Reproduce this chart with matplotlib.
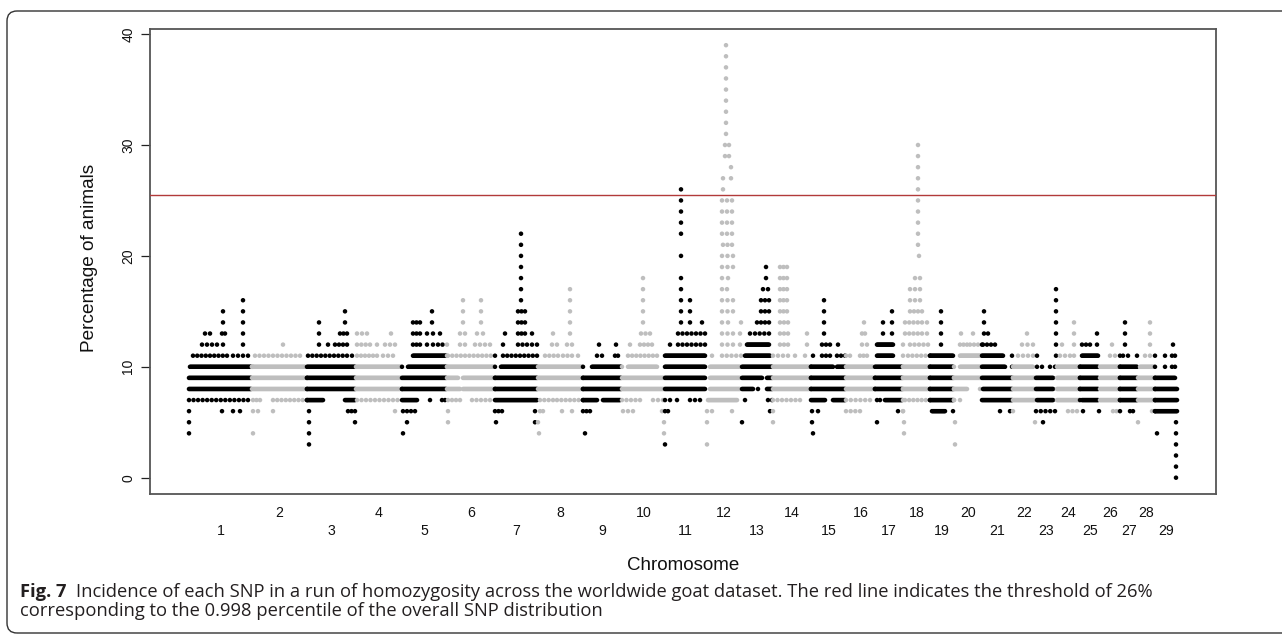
import numpy as np
import matplotlib
matplotlib.use("Agg")
import matplotlib.pyplot as plt
from matplotlib.patches import FancyBboxPatch

# ----------------------------------------------------------------------------
# DATA (x positions are SNP index in hundreds, y is % of animals in a ROH)
# ----------------------------------------------------------------------------
chrom_names = [str(i) for i in range(1, 30)]
chrom_sizes = [31.5, 27.5, 24.5, 23, 22.5, 24, 21.5, 22.5, 19.5, 21.5,
               20.5, 17.75, 15.5, 19.25, 17.5, 14.5, 14, 13.5, 12, 14,
               15.5, 11.25, 10.75, 11.5, 9.75, 10.25, 8.75, 8.75, 11.5]

threshold = 25.5

# runs of neighbouring SNPs sharing the same value: (level, first, last)
dense_runs = [
    (10, 0.5, 32), (9, 0, 31), (8, 0, 31),                                   # 1
    (10, 31.5, 58), (9, 31.5, 59), (8, 31.5, 59),                            # 2
    (10, 59, 83), (9, 59, 83), (8, 59, 83), (7, 59, 67), (7, 78, 83),        # 3
    (10, 83.5, 106.5), (9, 83.5, 106.5), (8, 83.5, 106.5),                   # 4
    (11, 112, 129), (10, 109.5, 129), (9, 107, 129), (8, 106.5, 129),
    (7, 107, 114),                                                           # 5
    (10, 129, 153), (9, 129.5, 134.5), (9, 137, 153), (8, 129.5, 135.5),
    (8, 137, 153),                                                           # 6
    (10, 156, 174), (9, 153, 174), (8, 153, 174), (7, 153, 174),             # 7
    (10, 174.5, 197), (9, 174.5, 197), (8, 174.5, 197),                      # 8
    (10, 201.5, 216.5), (9, 197, 216), (8, 197, 216), (7, 197, 204),
    (7, 207, 215.5),                                                         # 9
    (10, 219.5, 234), (9, 216.5, 237.5), (8, 216.5, 237.5),                  # 10
    (11, 238, 258), (10, 238, 258), (9, 238, 258), (8, 238, 258),            # 11
    (10, 260.5, 275.5), (9, 260.5, 275.5), (8, 260.5, 275.5),
    (7, 259.5, 274),                                                         # 12
    (12, 279, 290), (11, 278, 290.5), (10, 276.5, 291.5), (9, 276.5, 286.5),
    (9, 289, 291.5), (8, 276.5, 282), (8, 289, 291.5),                       # 13
    (10, 292, 311), (9, 292, 311), (8, 292, 311),                            # 14
    (10, 311, 322), (10, 324, 328), (9, 311, 328), (8, 311, 328),
    (7, 311, 318), (7, 322, 328),                                            # 15
    (10, 328.5, 342), (9, 328.5, 343), (8, 328.5, 343),                      # 16
    (12, 344, 352), (11, 344, 352), (10, 343, 357), (9, 343, 357),
    (8, 343, 357), (7, 348, 357),                                            # 17
    (10, 357, 370.5), (9, 357, 370.5), (8, 357, 370.5),                      # 18
    (11, 370.5, 382), (10, 370.5, 382.5), (9, 370.5, 382.5),
    (8, 370.5, 382.5), (7, 370.5, 382.5), (6, 371.5, 378),                   # 19
    (11, 385.5, 396.5), (10, 385.5, 396.5), (9, 382.5, 396.5),
    (8, 382.5, 389),                                                         # 20
    (11, 397, 407), (10, 397, 408), (9, 397, 412), (8, 397, 411.5),
    (7, 396.5, 411.5),                                                       # 21
    (10, 412, 422), (9, 412, 423), (8, 412, 423), (7, 412, 423),             # 22
    (9, 423.5, 432), (8, 423.5, 432), (7, 424, 432),                         # 23
    (10, 434, 445.5), (9, 434, 445.5), (8, 434, 445.5), (7, 434, 445.5),     # 24
    (11, 446.5, 454.5), (10, 445.5, 454.5), (9, 445.5, 454.5),
    (8, 445.5, 454.5), (7, 446.5, 454.5),                                    # 25
    (10, 455.5, 465.5), (9, 455.5, 465.5), (8, 455.5, 465.5),
    (7, 455.5, 465.5),                                                       # 26
    (10, 465.5, 474), (9, 465.5, 474), (8, 465.5, 474), (7, 465.5, 474),     # 27
    (10, 475.5, 483), (9, 474.5, 483), (8, 474.5, 483), (7, 474.5, 483),     # 28
    (9, 483, 493), (8, 483, 494), (7, 483, 494), (6, 483, 494),              # 29
]

# looser runs where single SNP dots are still visible
dotted_runs = [
    (13, 8, 10.5), (13, 16.5, 18), (12, 6.5, 14), (11, 2, 19), (11, 22, 29.5),
    (7, 0, 29.5), (6, 16.5, 16.5), (6, 22, 22), (6, 25.5, 25.5),             # 1
    (11, 33, 55.5), (7, 32, 35.5), (7, 42, 59), (6, 32, 34.5), (6, 42, 42),  # 2
    (13, 75.5, 79), (12, 69.5, 69.5), (12, 73, 79), (11, 59.5, 79),
    (11, 81.5, 81.5), (6, 79.5, 83),                                         # 3
    (13, 84, 89), (13, 101, 101), (12, 84, 90.5), (12, 94, 94), (12, 98, 103),
    (11, 84, 94), (11, 97, 102), (7, 84, 106.5), (6, 103, 103),              # 4
    (14, 112, 115.5), (13, 112, 115.5), (13, 119, 122), (12, 112, 115.5),
    (12, 119, 122), (12, 124.5, 129), (7, 120.5, 120.5), (7, 126.5, 128),
    (6, 107, 113),                                                           # 5
    (13, 135.5, 138), (13, 144, 147), (12, 135.5, 138), (12, 143, 150.5),
    (11, 129.5, 153), (7, 129.5, 135.5), (7, 141.5, 150.5),                  # 6
    (15, 164.5, 168), (14, 164.5, 168), (13, 164.5, 168), (12, 164.5, 169),
    (12, 171.5, 174), (11, 157, 174), (6, 153, 156.5),                       # 7
    (12, 181.5, 184), (12, 189, 191.5), (11, 178, 184.5), (11, 187, 191.5),
    (7, 175.5, 182), (7, 184, 197), (6, 175.5, 177),                         # 8
    (11, 204, 206.5), (11, 213, 214.5), (6, 197, 200.5),                     # 9
    (13, 226, 230.5), (12, 225.5, 231.5), (11, 219.5, 234), (7, 216.5, 225.5),
    (7, 232, 237), (6, 217, 222),                                            # 10
    (13, 244.5, 258), (12, 244.5, 258), (7, 238, 240.5), (7, 250.5, 255.5),
    (6, 238, 239.5),                                                         # 11
    (30, 268, 270), (29, 268, 270), (25, 266.5, 271.5), (24, 266.5, 271.5),
    (23, 266.5, 271.5), (22, 266.5, 271.5), (21, 267, 271.5),
    (20, 266.5, 272), (19, 266.5, 272), (18, 266.5, 269.5), (17, 266.5, 269),
    (16, 266.5, 272), (15, 266.5, 272), (14, 266.5, 269.5), (13, 266.5, 272),
    (12, 266.5, 272), (11, 266.5, 276), (6, 259, 261.5),                     # 12
    (17, 287, 289.5), (16, 286, 290), (15, 286, 290), (14, 284, 290),
    (13, 283, 290), (7, 289.5, 291.5), (6, 290.5, 291.5),                    # 13
    (19, 295.5, 299), (18, 295.5, 299), (17, 295.5, 299), (16, 295.5, 299),
    (15, 295.5, 299), (14, 295.5, 299.5), (13, 295.5, 299.5),
    (12, 295.5, 299.5), (11, 292, 299.5), (7, 292, 305.5),                   # 14
    (12, 316.5, 320.5), (11, 316.5, 320.5), (11, 324, 328),
    (6, 311.5, 314.5),                                                       # 15
    (13, 336.5, 338), (12, 336.5, 339), (11, 328.5, 330.5), (11, 335.5, 339),
    (7, 328.5, 340.5), (6, 328.5, 335.5),                                    # 16
    (7, 344, 345.5), (6, 354.5, 357),                                        # 17
    (18, 363, 365.5), (17, 360.5, 365.5), (16, 360.5, 365.5),
    (15, 360.5, 366.5), (14, 358, 366.5), (13, 358, 366.5), (12, 360.5, 369.5),
    (11, 359.5, 370.5), (7, 358, 370.5),                                     # 18
    (12, 385.5, 389), (12, 390.5, 396.5), (7, 382.5, 385.5),                 # 20
    (13, 397.5, 399.5), (12, 397, 403),                                      # 21
    (12, 416.5, 422), (11, 414.5, 422),                                      # 22
    (10, 424, 426.5), (10, 430.5, 433), (6, 423.5, 433),                     # 23
    (11, 435.5, 440.5), (6, 439.5, 444),                                     # 24
    (12, 446.5, 450.5),                                                      # 25
    (11, 460.5, 465.5), (6, 462, 465.5),                                     # 26
    (11, 467, 469.5), (6, 470.5, 472),                                       # 27
    (11, 478, 483), (6, 481.5, 483),                                         # 28
    (11, 491.5, 493), (10, 491.5, 493),                                      # 29
]

# single SNPs stacked over a range of levels: (position, lowest, highest)
spike_stacks = [
    (27, 12, 16), (17, 14, 15), (17, 12, 12), (0, 4, 6),
    (47, 12, 12), (32, 4, 4),
    (78, 14, 15), (65, 12, 14), (60, 3, 6), (83, 5, 5),
    (121.5, 14, 15), (125.5, 13, 13), (109, 5, 5), (107, 4, 4),
    (137, 14, 16), (146, 14, 16), (129.5, 5, 6),
    (166, 16, 22), (158, 13, 13), (157, 12, 12), (171.5, 13, 13),
    (173, 5, 6), (153.5, 5, 5),
    (190.5, 13, 17), (182, 13, 13), (194.5, 11, 11), (186.5, 6, 6),
    (191.5, 6, 6), (174.5, 5, 5), (175, 4, 4),
    (205, 12, 12), (213.5, 12, 12), (198, 4, 4),
    (227, 14, 18), (220.5, 12, 12), (236.5, 6, 6), (237.5, 4, 5),
    (246, 22, 26), (246, 20, 20), (246, 14, 18), (250.5, 14, 16),
    (256.5, 14, 14), (240.5, 12, 12), (244, 7, 7), (238, 3, 3),
    (268.5, 31, 39), (271, 28, 28), (267, 26, 26), (271, 27, 27),
    (267, 27, 27), (275.5, 12, 13), (276, 14, 14), (261.5, 11, 11),
    (271.5, 6, 6), (259, 5, 5), (259, 3, 3),
    (288.5, 18, 19), (280.5, 13, 13), (284.5, 8, 8), (278, 7, 7),
    (276.5, 5, 5),
    (309, 12, 13), (303, 11, 11), (308, 11, 11), (292, 5, 6),
    (317.5, 13, 16), (324.5, 12, 12), (312, 11, 11), (311.5, 5, 5),
    (312, 4, 4),
    (337.5, 14, 14),
    (351.5, 13, 15), (347, 13, 14), (344, 5, 5),
    (364.5, 21, 30), (365, 20, 20), (369, 13, 14), (357, 11, 12),
    (357, 6, 6), (357.5, 4, 5),
    (376, 12, 15), (382, 6, 6), (383, 5, 5), (383, 3, 3),
    (386, 13, 13), (392, 13, 13), (395.5, 8, 8),
    (397.5, 14, 15), (411.5, 10, 11), (405.5, 6, 6), (410.5, 6, 6),
    (419, 13, 13), (412, 6, 6), (423, 5, 5),
    (433.5, 11, 17), (424, 11, 11), (427, 5, 5),
    (442.5, 11, 14), (436.5, 12, 12),
    (454, 12, 13), (447, 6, 6), (455, 6, 6),
    (461.5, 12, 12),
    (468, 12, 14), (474, 11, 11),
    (480.5, 12, 14), (474.5, 5, 5),
    (492, 12, 12), (488, 10, 11), (493.5, 0, 5), (484, 4, 4),
]

caption_bold = "Fig. 7"
caption_line1 = ("Incidence of each SNP in a run of homozygosity across the worldwide "
                 "goat dataset. The red line indicates the threshold of 26%")
caption_line2 = "corresponding to the 0.998 percentile of the overall SNP distribution"

# ----------------------------------------------------------------------------
# BUILD POINTS
# ----------------------------------------------------------------------------
bounds = np.concatenate(([0], np.cumsum(chrom_sizes)))
mids = (bounds[:-1] + bounds[1:]) / 2

xs, ys = [], []
for lev, a, b in dense_runs:
    p = np.arange(a, b + 1e-9, 0.5)
    xs.extend(p)
    ys.extend([lev] * len(p))
for lev, a, b in dotted_runs:
    n = max(1, int(round((b - a) / 2.2)) + 1)
    p = np.linspace(a, b, n)
    xs.extend(p)
    ys.extend([lev] * len(p))
for pos, lo, hi in spike_stacks:
    for lev in range(lo, hi + 1):
        xs.append(pos)
        ys.append(lev)

xs = np.array(xs)
ys = np.array(ys)
order = np.argsort(xs, kind="stable")
xs, ys = xs[order], ys[order]
chrom_idx = np.clip(np.searchsorted(bounds, xs, side="right") - 1, 0, len(chrom_sizes) - 1)
colors = np.where(chrom_idx % 2 == 0, "#000000", "#bebebe")

# ----------------------------------------------------------------------------
# PLOT
# ----------------------------------------------------------------------------
plt.rcParams["font.family"] = ["Liberation Sans", "DejaVu Sans"]

W, H = 1282, 636
fig = plt.figure(figsize=(W / 100, H / 100), dpi=100)
ax = fig.add_axes([150 / W, 1 - 494 / H, 1066 / W, 465 / H])

ax.scatter(xs, ys, c=colors, s=10.5, linewidths=0, zorder=2)
ax.axhline(threshold, color="#b23a3a", linewidth=1.0, zorder=3)

ax.set_xlim(-19.5, 513.5)
ax.set_ylim(-1.47, 40.46)
ax.set_xticks([])
ax.set_yticks([0, 10, 20, 30, 40])
ax.tick_params(axis="y", length=6.5, width=0.9, color="#222222", pad=4,
               labelsize=10, labelcolor="#111111")
for lbl in ax.get_yticklabels():
    lbl.set_rotation(90)
    lbl.set_va("center")
for sp in ax.spines.values():
    sp.set_color("#555555")
    sp.set_linewidth(1.3)

# chromosome labels in two staggered rows
for i, name in enumerate(chrom_names):
    yrow = -0.0796 if i % 2 == 0 else -0.0409
    ax.text(mids[i], yrow, name, transform=ax.get_xaxis_transform(),
            ha="center", va="center", fontsize=10.2, color="#111111")

fig.text(683 / W, 1 - 565 / H, "Chromosome", ha="center", va="center",
         fontsize=13.5, color="#111111")
fig.text(90 / W, 1 - 258 / H, "Percentage of animals", ha="center", va="center",
         rotation=90, fontsize=13.7, color="#111111")

# caption
cap_font = ["Open Sans", "DejaVu Sans"]
cap_size = 13.2
t_bold = fig.text(20 / W, 1 - 597 / H, caption_bold, family=cap_font,
                  fontweight="bold", fontsize=cap_size, color="#231f20", va="baseline")
fig.canvas.draw()
bb = t_bold.get_window_extent()
fig.text((bb.x1 + 9) / W, 1 - 597 / H, caption_line1, family=cap_font,
         fontsize=cap_size, color="#231f20", va="baseline")
fig.text(20 / W, 1 - 616 / H, caption_line2, family=cap_font,
         fontsize=cap_size, color="#231f20", va="baseline")

# rounded frame around the whole figure panel
frame = FancyBboxPatch((7, 3), 1290, 622, boxstyle="round,pad=0,rounding_size=10",
                       transform=None, fill=False, edgecolor="#333333", linewidth=1.0)
fig.add_artist(frame)

fig.savefig("out.png", dpi=100)
